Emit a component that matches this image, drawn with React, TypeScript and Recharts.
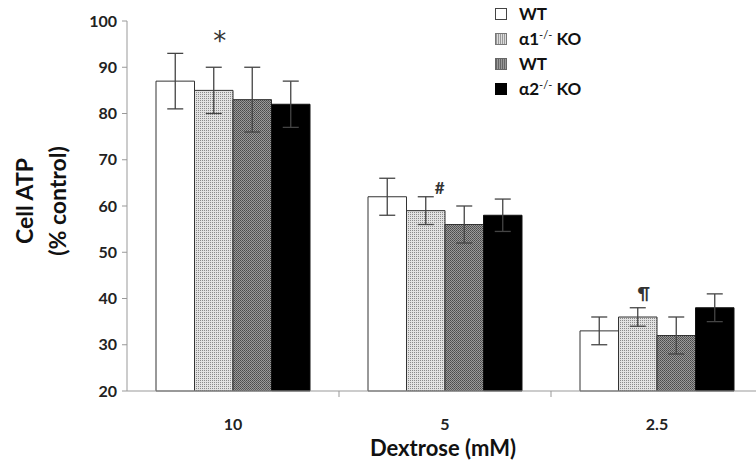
import React from 'react';
import { BarChart, Bar, XAxis, YAxis, ErrorBar, Legend, ReferenceDot } from 'recharts';

// dextrose concentration (mM)
const categories = ['10', '5', '2.5'];

// cell ATP, % of control
const wt1 = [87, 62, 33];
const ko1 = [85, 59, 36];
const wt2 = [83, 56, 32];
const ko2 = [82, 58, 38];

// error bars (+/-)
const wt1Err = [6, 4, 3];
const ko1Err = [5, 3, 2];
const wt2Err = [7, 4, 4];
const ko2Err = [5, 3.5, 3];

const yTicks = [20, 30, 40, 50, 60, 70, 80, 90, 100];

// significance marks above the alpha1 KO bars
const marks = ['*', '#', '¶'];
const markY = [95.6, 64.1, 41.2];

const legendItems = [
  { key: 'wt1', base: 'WT', sup: '', after: '' },
  { key: 'ko1', base: 'α1', sup: '-/-', after: ' KO' },
  { key: 'wt2', base: 'WT', sup: '', after: '' },
  { key: 'ko2', base: 'α2', sup: '-/-', after: ' KO' },
];

const data = categories.map((c, i) => ({
  dex: c,
  wt1: wt1[i],
  ko1: ko1[i],
  wt2: wt2[i],
  ko2: ko2[i],
  wt1Err: wt1Err[i],
  ko1Err: ko1Err[i],
  wt2Err: wt2Err[i],
  ko2Err: ko2Err[i],
}));

const FONT = 'Lato, "DejaVu Sans", sans-serif';
const BAR = 38.5;
const fills: Record<string, string> = {
  wt1: '#ffffff',
  ko1: 'url(#dotsLight)',
  wt2: 'url(#dotsDark)',
  ko2: '#000000',
};
const swatch: Record<string, React.CSSProperties> = {
  wt1: { background: '#fff', border: '1px solid #444' },
  ko1: { background: 'repeating-linear-gradient(90deg,#999 0 1px,#ddd 1px 2px)', border: '1px solid #777' },
  wt2: { background: 'repeating-linear-gradient(90deg,#666 0 1px,#999 1px 2px)', border: '1px solid #666' },
  ko2: { background: '#000', border: '1px solid #000' },
};

const XTick = (props: any) => {
  const { x, y, payload } = props;
  const half = payload.offset || 106;
  return (
    <g>
      <text x={x} y={y + 24} textAnchor="middle" dominantBaseline="central"
        fontFamily={FONT} fontWeight={700} fontSize={16} fill="#222">
        {payload.value}
      </text>
      {payload.index < categories.length - 1 && (
        <line x1={x + half} x2={x + half} y1={y - 8} y2={y - 2} stroke="#999" strokeWidth={1} />
      )}
    </g>
  );
};

const LegendBox = () => (
  <div style={{ fontFamily: FONT, fontWeight: 700, fontSize: 17, color: '#111' }}>
    {legendItems.map((it) => (
      <div key={it.key + it.base + it.after} style={{ display: 'flex', alignItems: 'center', height: 25 }}>
        <span style={{ display: 'inline-block', width: 10, height: 10, marginRight: 12, ...swatch[it.key] }} />
        <span>
          {it.base}
          {it.sup && <sup style={{ fontSize: 11, fontWeight: 400, verticalAlign: 6 }}>{it.sup}</sup>}
          {it.after}
        </span>
      </div>
    ))}
  </div>
);

export default function App() {
  return (
    <div style={{ position: 'absolute', left: 0, top: 0, width: 756, height: 461, overflow: 'hidden', background: '#fff' }}>
      <BarChart width={770} height={461} data={data} barSize={BAR} barGap={0}
        margin={{ top: 21, right: 7, left: 0, bottom: 0 }}>
        <defs>
          <pattern id="dotsLight" width="2" height="2" patternUnits="userSpaceOnUse">
            <rect width="2" height="2" fill="#e2e2e2" />
            <rect width="1" height="1" fill="#8a8a8a" />
          </pattern>
          <pattern id="dotsDark" width="2" height="2" patternUnits="userSpaceOnUse">
            <rect width="2" height="2" fill="#9a9a9a" />
            <rect width="1" height="1" fill="#4a4a4a" />
            <rect x="1" y="1" width="1" height="1" fill="#5a5a5a" />
          </pattern>
        </defs>
        <XAxis dataKey="dex" height={70} tickLine={false} axisLine={{ stroke: '#999' }}
          tick={<XTick />} interval={0}
          label={(p: any) => {
            const vb = p.viewBox;
            return (
              <text x={vb.x + vb.width / 2 - 2} y={vb.y + 56} textAnchor="middle" dominantBaseline="central"
                fontFamily={FONT} fontWeight={700} fontSize={22} fill="#111">
                Dextrose (mM)
              </text>
            );
          }}
        />
        <YAxis domain={[20, 100]} ticks={yTicks} width={127} interval={0}
          axisLine={{ stroke: '#999' }} tickLine={{ stroke: '#999' }} tickSize={5} tickMargin={5}
          tick={{ fontFamily: FONT, fontWeight: 700, fontSize: 16, fill: '#222' }}
          label={() => (
            <g fontFamily={FONT} fontWeight={700} fontSize={23} fill="#111">
              <text x={24} y={201} transform="rotate(-90 24 201)" textAnchor="middle" dominantBaseline="central">Cell ATP</text>
              <text x={57} y={201} transform="rotate(-90 57 201)" textAnchor="middle" dominantBaseline="central">(% control)</text>
            </g>
          )}
        />
        <Legend layout="horizontal" verticalAlign="middle" align="center" content={<LegendBox />}
          wrapperStyle={{ position: 'absolute', top: 1, left: 495, width: 140 }} />
        <Bar dataKey="wt1" name="WT" fill={fills.wt1} stroke="#333" strokeWidth={1} isAnimationActive={false}>
          <ErrorBar dataKey="wt1Err" width={8} stroke="#444" strokeWidth={1.3} isAnimationActive={false} />
        </Bar>
        <Bar dataKey="ko1" name="α1-/- KO" fill={fills.ko1} stroke="#333" strokeWidth={1} isAnimationActive={false}>
          <ErrorBar dataKey="ko1Err" width={8} stroke="#444" strokeWidth={1.3} isAnimationActive={false} />
        </Bar>
        <Bar dataKey="wt2" name="WT " fill={fills.wt2} stroke="#333" strokeWidth={1} isAnimationActive={false}>
          <ErrorBar dataKey="wt2Err" width={8} stroke="#444" strokeWidth={1.3} isAnimationActive={false} />
        </Bar>
        <Bar dataKey="ko2" name="α2-/- KO" fill={fills.ko2} stroke="#111" strokeWidth={1} isAnimationActive={false}>
          <ErrorBar dataKey="ko2Err" width={8} stroke="#444" strokeWidth={1.3} isAnimationActive={false} />
        </Bar>
        {categories.map((c, i) => (
          <ReferenceDot key={c} x={c} y={markY[i]} r={0} ifOverflow="visible"
            shape={(p: any) => (
              <text x={p.cx - BAR * 0.5 + (i === 1 ? 14 : 6)} y={p.cy} textAnchor="middle" dominantBaseline="central"
                fontFamily={i === 0 ? '"DejaVu Sans", sans-serif' : FONT}
                fontSize={i === 0 ? 26 : 17} fontWeight={i === 0 ? 400 : 700} fill="#333">
                {marks[i]}
              </text>
            )}
          />
        ))}
      </BarChart>
    </div>
  );
}
